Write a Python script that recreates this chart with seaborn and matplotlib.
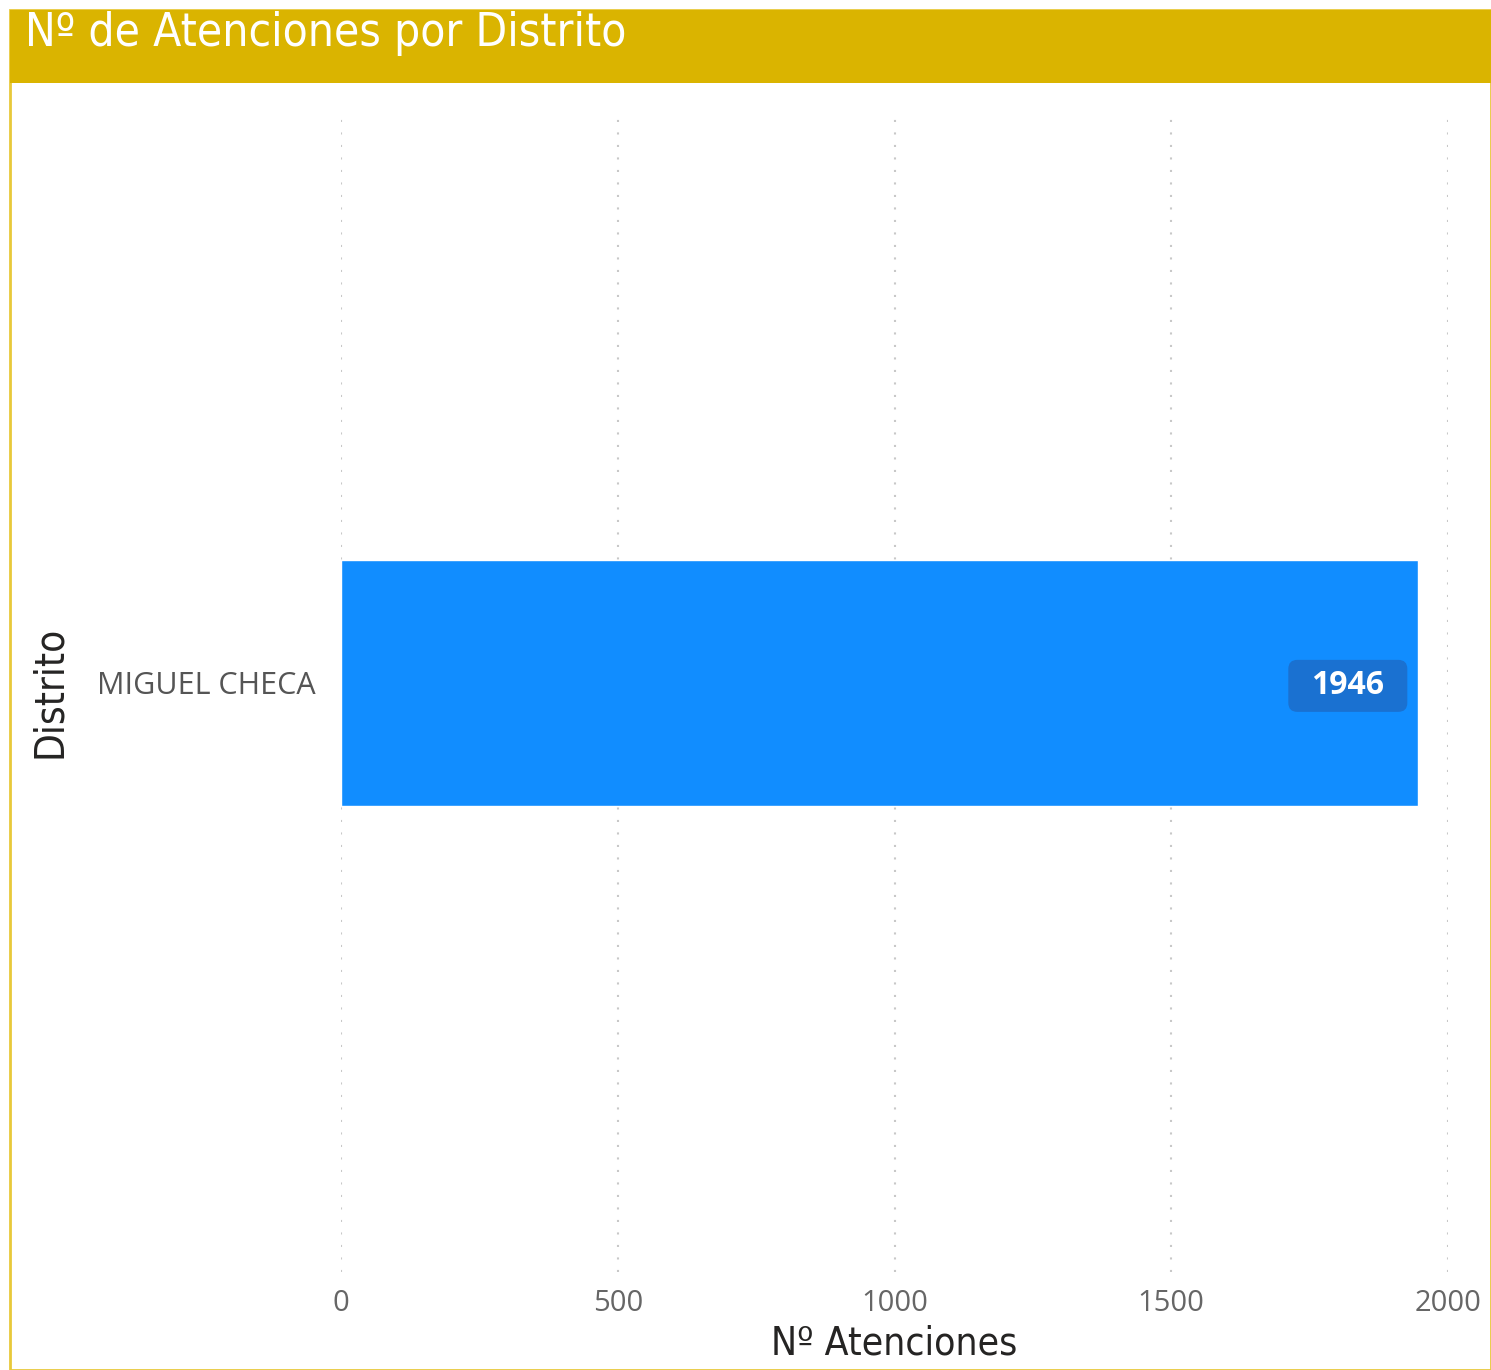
import matplotlib
matplotlib.use("Agg")
import matplotlib.pyplot as plt
import seaborn as sns
import pandas as pd
from matplotlib.patches import Rectangle, FancyBboxPatch
from matplotlib.transforms import IdentityTransform

# ── Data ──────────────────────────────────────────────────────
distritos = ["MIGUEL CHECA"]
atenciones = [1946]
x_ticks = [0, 500, 1000, 1500, 2000]

df = pd.DataFrame({"Distrito": distritos, "Atenciones": atenciones})

# ── Style ─────────────────────────────────────────────────────
sns.set_theme(style="white")
plt.rcParams["font.family"] = ["Open Sans", "DejaVu Sans"]

W, H = 1491, 1370
fig = plt.figure(figsize=(W / 100, H / 100), dpi=100)

# frame + header band (kept below the axes)
gold = "#DAB400"
fig.patches.append(Rectangle((10 / W, 0), 1 - 10 / W, 1 - 10 / H, transform=fig.transFigure,
                             facecolor="white", edgecolor="#E8C93A", linewidth=2, zorder=-2))
fig.patches.append(Rectangle((10 / W, 1 - 83 / H), 1 - 10 / W, 73 / H, transform=fig.transFigure,
                             facecolor=gold, edgecolor="none", zorder=-1))
fig.text(25 / W, 1 - 34 / H, "Nº de Atenciones por Distrito", color="white", fontsize=33,
         va="center", ha="left", family=["DejaVu Sans"], fontstretch="condensed", zorder=2)

ax = fig.add_axes([341 / W, 1 - 1272 / H, (1448 - 341) / W, (1272 - 112) / H])
ax.set_zorder(1)
ax.set_facecolor("none")

sns.barplot(data=df, x="Atenciones", y="Distrito", orient="h", color="#118DFF",
            width=0.8, saturation=1, ax=ax, zorder=2)

ax.set_xlim(0, 2000)
ax.set_ylim(1.92, -1.86)
ax.set_xticks(x_ticks)
ax.set_xticklabels([str(t) for t in x_ticks], fontsize=21, color="#666666")
ax.tick_params(axis="y", labelsize=22, labelcolor="#555555", pad=18, length=0)
ax.tick_params(axis="x", pad=12, length=0)

for t in x_ticks:
    ax.axvline(t, color="#C8C8C8", linestyle=(0, (1, 5)), linewidth=1.5, zorder=1)

for s in ax.spines.values():
    s.set_visible(False)

ax.set_xlabel("Nº Atenciones", fontsize=28, color="#252423", labelpad=5,
              family=["DejaVu Sans"], fontstretch="condensed")
ax.set_ylabel("Distrito", fontsize=29, color="#252423", labelpad=20,
              family=["DejaVu Sans"], fontstretch="condensed")

# value label in a rounded dark box (box sized in pixels)
for i, v in enumerate(atenciones):
    xc = v - 127
    px, py = ax.transData.transform((xc, i + 0.01))
    bw, bh = 119, 52
    ax.add_patch(FancyBboxPatch((px - bw / 2, py - bh / 2), bw, bh,
                                boxstyle="round,pad=0,rounding_size=9",
                                transform=IdentityTransform(), facecolor="#1A71D1",
                                edgecolor="none", zorder=3))
    ax.text(xc, i + 0.01, str(v), ha="center", va="center", color="white", fontsize=23,
            fontweight="bold", zorder=4)

fig.savefig("out.png", dpi=100)
